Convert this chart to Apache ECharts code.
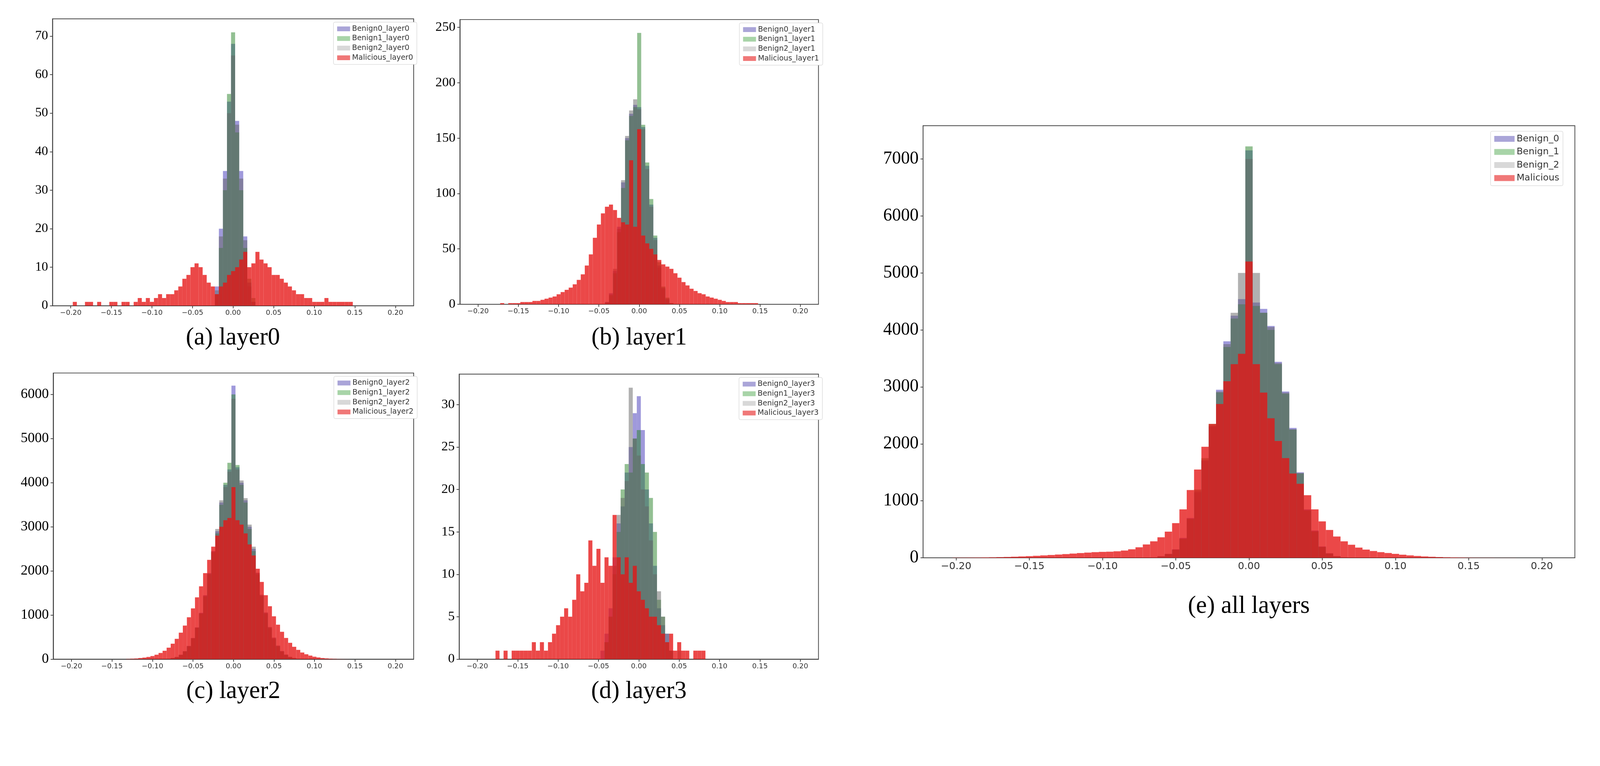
<!DOCTYPE html>
<html><head><meta charset="utf-8">
<script src="https://cdn.jsdelivr.net/npm/echarts@6/dist/echarts.min.js"></script>
<style>html,body{margin:0;padding:0;background:#fff;overflow:hidden}#c{position:absolute;left:0;top:0}</style>
</head><body><div id="c"></div>
<script>
const bins = [-0.22,-0.215,-0.21,-0.205,-0.2,-0.195,-0.19,-0.185,-0.18,-0.175,
-0.17,-0.165,-0.16,-0.155,-0.15,-0.145,-0.14,-0.135,-0.13,-0.125,
-0.12,-0.115,-0.11,-0.105,-0.1,-0.095,-0.09,-0.085,-0.08,-0.075,
-0.07,-0.065,-0.06,-0.055,-0.05,-0.045,-0.04,-0.035,-0.03,-0.025,
-0.02,-0.015,-0.01,-0.005,0,0.005,0.01,0.015,0.02,0.025,
0.03,0.035,0.04,0.045,0.05,0.055,0.06,0.065,0.07,0.075,
0.08,0.085,0.09,0.095,0.1,0.105,0.11,0.115,0.12,0.125,
0.13,0.135,0.14,0.145,0.15,0.155,0.16,0.165,0.17,0.175,
0.18,0.185,0.19,0.195,0.2,0.205,0.21,0.215,0.22];
const xTicks = [-0.2,-0.15,-0.1,-0.05,0,0.05,0.1,0.15,0.2];

// layer0
const L0_B0 = [0,0,0,0,0,0,0,0,0,0, 0,0,0,0,0,0,0,0,0,0, 0,0,0,0,0,0,0,0,0,0, 0,0,0,0,0,0,0,0,0,0,
 5,20,35,53,68,48,35,18,6,1, 0,0,0,0,0,0,0,0,0,0, 0,0,0,0,0,0,0,0,0,0, 0,0,0,0,0,0,0,0,0,0, 0,0,0,0,0,0,0,0,0];
const L0_B1 = [0,0,0,0,0,0,0,0,0,0, 0,0,0,0,0,0,0,0,0,0, 0,0,0,0,0,0,0,0,0,0, 0,0,0,0,0,0,0,0,0,0,
 3,15,30,55,71,45,30,15,7,2, 0,0,0,0,0,0,0,0,0,0, 0,0,0,0,0,0,0,0,0,0, 0,0,0,0,0,0,0,0,0,0, 0,0,0,0,0,0,0,0,0];
const L0_B2 = [0,0,0,0,0,0,0,0,0,0, 0,0,0,0,0,0,0,0,0,0, 0,0,0,0,0,0,0,0,0,0, 0,0,0,0,0,0,0,0,0,0,
 4,18,33,50,65,47,33,17,5,1, 0,0,0,0,0,0,0,0,0,0, 0,0,0,0,0,0,0,0,0,0, 0,0,0,0,0,0,0,0,0,0, 0,0,0,0,0,0,0,0,0];
const L0_M = [0,0,0,0,0,1,0,0,1,1, 0,1,0,0,1,1,0,1,1,0, 1,2,1,2,1,2,3,2,3,3, 4,5,7,8,10,11,10,8,6,5,
 3,5,6,8,9,10,12,14,10,11, 14,12,11,10,8,8,7,6,5,4, 3,3,2,2,1,1,1,2,1,1, 1,1,1,1,0,0,0,0,0,0, 0,0,0,0,0,0,0,0,0];

// layer1
const L1_B0 = [0,0,0,0,0,0,0,0,0,0, 0,0,0,0,0,0,0,0,0,0, 0,0,0,0,0,0,0,0,0,0, 0,0,0,0,0,0,2,10,30,70,
 110,150,172,180,178,160,125,90,60,35, 15,5,1,0,0,0,0,0,0,0, 0,0,0,0,0,0,0,0,0,0, 0,0,0,0,0,0,0,0,0,0, 0,0,0,0,0,0,0,0,0];
const L1_B1 = [0,0,0,0,0,0,0,0,0,0, 0,0,0,0,0,0,0,0,0,0, 0,0,0,0,0,0,0,0,0,0, 0,0,0,0,0,0,1,8,28,65,
 105,148,170,178,245,162,128,95,62,38, 16,6,1,0,0,0,0,0,0,0, 0,0,0,0,0,0,0,0,0,0, 0,0,0,0,0,0,0,0,0,0, 0,0,0,0,0,0,0,0,0];
const L1_B2 = [0,0,0,0,0,0,0,0,0,0, 0,0,0,0,0,0,0,0,0,0, 0,0,0,0,0,0,0,0,0,0, 0,0,0,0,0,0,2,9,32,68,
 112,152,175,185,176,158,122,88,58,33, 14,4,1,0,0,0,0,0,0,0, 0,0,0,0,0,0,0,0,0,0, 0,0,0,0,0,0,0,0,0,0, 0,0,0,0,0,0,0,0,0];
const L1_M = [0,0,0,0,0,0,0,0,0,0, 1,0,1,1,1,2,2,2,3,3, 4,5,6,7,9,11,13,15,18,22, 27,35,45,60,72,82,88,90,85,78,
 74,72,130,70,158,62,55,50,45,40, 36,34,32,28,24,20,17,14,12,10, 9,7,6,5,4,3,2,2,2,1, 1,1,1,1,0,0,0,0,0,0, 0,0,0,0,0,0,0,0,0];

// layer2
const L2_B0 = [0,0,0,0,0,0,0,0,0,0, 0,0,0,0,0,0,0,0,0,0, 0,0,0,0,0,0,0,0,10,25, 50,100,180,300,480,720,1050,1450,1950,2450,
 2900,3550,3950,4300,6200,4350,4000,3600,3000,2500, 1950,1450,1050,720,480,300,180,100,50,25, 10,0,0,0,0,0,0,0,0,0, 0,0,0,0,0,0,0,0,0,0, 0,0,0,0,0,0,0,0,0];
const L2_B1 = [0,0,0,0,0,0,0,0,0,0, 0,0,0,0,0,0,0,0,0,0, 0,0,0,0,0,0,0,0,8,22, 45,95,175,290,470,710,1030,1420,1920,2420,
 2850,3500,4000,4450,6000,4400,3950,3550,2950,2450, 1920,1430,1030,700,460,290,170,95,45,22, 8,0,0,0,0,0,0,0,0,0, 0,0,0,0,0,0,0,0,0,0, 0,0,0,0,0,0,0,0,0];
const L2_B2 = [0,0,0,0,0,0,0,0,0,0, 0,0,0,0,0,0,0,0,0,0, 0,0,0,0,0,0,0,0,9,24, 48,98,178,295,475,715,1040,1440,1940,2440,
 2950,3600,3900,4250,5900,4300,4050,3650,3050,2550, 1960,1460,1060,730,490,310,185,105,52,26, 11,0,0,0,0,0,0,0,0,0, 0,0,0,0,0,0,0,0,0,0, 0,0,0,0,0,0,0,0,0];
const L2_M = [0,0,0,0,0,0,0,0,0,0, 0,0,0,0,0,0,0,0,5,10, 15,25,35,50,70,100,140,190,260,350, 460,600,760,950,1150,1400,1650,1950,2250,2550,
 2800,3000,3150,3200,3900,3150,3050,2850,2600,2350, 2050,1750,1450,1200,970,780,620,480,370,280, 210,150,110,80,55,38,25,17,11,7, 4,2,1,0,0,0,0,0,0,0, 0,0,0,0,0,0,0,0,0];

// layer3
const L3_B0 = [0,0,0,0,0,0,0,0,0,0, 0,0,0,0,0,0,0,0,0,0, 0,0,0,0,0,0,0,0,0,0, 0,0,0,0,0,1,3,6,12,16,
 18,22,25,29,31,27,20,16,11,6, 4,3,1,0,0,0,0,0,0,0, 0,0,0,0,0,0,0,0,0,0, 0,0,0,0,0,0,0,0,0,0, 0,0,0,0,0,0,0,0,0];
const L3_B1 = [0,0,0,0,0,0,0,0,0,0, 0,0,0,0,0,0,0,0,0,0, 0,0,0,0,0,0,0,0,0,0, 0,0,0,0,0,0,2,5,10,15,
 20,23,22,26,27,23,22,19,15,7, 5,2,1,0,0,0,0,0,0,0, 0,0,0,0,0,0,0,0,0,0, 0,0,0,0,0,0,0,0,0,0, 0,0,0,0,0,0,0,0,0];
const L3_B2 = [0,0,0,0,0,0,0,0,0,0, 0,0,0,0,0,0,0,0,0,0, 0,0,0,0,0,0,0,0,0,0, 0,0,0,0,0,0,2,5,11,17,
 19,21,32,26,24,20,18,14,10,8, 5,3,1,0,1,0,0,0,0,0, 0,0,0,0,0,0,0,0,0,0, 0,0,0,0,0,0,0,0,0,0, 0,0,0,0,0,0,0,0,0];
const L3_M = [0,0,0,0,0,0,0,0,0,1, 0,1,0,1,1,1,1,1,2,1, 2,1,2,3,4,5,6,5,7,10, 8,9,14,11,13,9,12,11,17,12,
 10,12,9,11,8,7,6,5,5,4, 3,2,3,1,2,1,1,0,1,1, 1,0,0,0,0,0,0,0,0,0, 0,0,0,0,0,0,0,0,0,0, 0,0,0,0,0,0,0,0,0];

// all layers
const ALL_B0 = [0,0,0,0,0,0,0,0,0,0, 0,0,0,0,0,0,0,0,0,0, 0,0,0,0,0,0,0,0,0,0, 0,10,30,70,150,350,700,1150,1700,2300,
 2950,3800,4250,4540,7150,4480,4370,4070,3440,2920, 2280,1500,850,480,200,80,30,10,0,0, 0,0,0,0,0,0,0,0,0,0, 0,0,0,0,0,0,0,0,0,0, 0,0,0,0,0,0,0,0,0];
const ALL_B1 = [0,0,0,0,0,0,0,0,0,0, 0,0,0,0,0,0,0,0,0,0, 0,0,0,0,0,0,0,0,0,0, 0,8,25,65,140,330,680,1200,1750,2350,
 2900,3700,4200,4450,7220,4420,4300,4000,3400,2880, 2250,1480,830,460,190,75,28,9,0,0, 0,0,0,0,0,0,0,0,0,0, 0,0,0,0,0,0,0,0,0,0, 0,0,0,0,0,0,0,0,0];
const ALL_B2 = [0,0,0,0,0,0,0,0,0,0, 0,0,0,0,0,0,0,0,0,0, 0,0,0,0,0,0,0,0,0,0, 0,9,28,68,145,340,690,1180,1720,2320,
 2920,3750,4300,5000,7000,5000,4300,4050,3420,2900, 2260,1490,840,470,195,78,29,10,0,0, 0,0,0,0,0,0,0,0,0,0, 0,0,0,0,0,0,0,0,0,0, 0,0,0,0,0,0,0,0,0];
const ALL_M = [0,0,0,0,3,4,5,6,8,10, 13,16,20,25,30,36,43,50,58,66, 75,84,92,100,105,108,115,128,150,185, 235,290,360,460,610,850,1190,1550,1950,2350,
 2700,3100,3400,3580,5200,3400,2900,2450,2050,1750, 1480,1300,1100,850,640,490,375,290,230,180, 145,120,100,85,70,55,43,33,25,19, 14,10,8,6,4,3,2,2,1,1, 1,0,0,0,0,0,0,0,0];

const panels = [
  {names:['Benign0_layer0','Benign1_layer0','Benign2_layer0','Malicious_layer0'], data:[L0_B0,L0_B1,L0_B2,L0_M], yMax:74.5, yInt:10, caption:'(a) layer0'},
  {names:['Benign0_layer1','Benign1_layer1','Benign2_layer1','Malicious_layer1'], data:[L1_B0,L1_B1,L1_B2,L1_M], yMax:257, yInt:50, caption:'(b) layer1'},
  {names:['Benign0_layer2','Benign1_layer2','Benign2_layer2','Malicious_layer2'], data:[L2_B0,L2_B1,L2_B2,L2_M], yMax:6486, yInt:1000, caption:'(c) layer2'},
  {names:['Benign0_layer3','Benign1_layer3','Benign2_layer3','Malicious_layer3'], data:[L3_B0,L3_B1,L3_B2,L3_M], yMax:33.6, yInt:5, caption:'(d) layer3'},
  {names:['Benign_0','Benign_1','Benign_2','Malicious'], data:[ALL_B0,ALL_B1,ALL_B2,ALL_M], yMax:7584, yInt:1000, caption:'(e) all layers'}
];
// layout in reference pixels (4328 x 1961), scaled to the actual viewport below
const layout = [
  {left:142, top:51, width:977, height:776, yFs:35, xFs:19, lg:{left:902, top:60, iw:35, ih:13, fs:20, gap:6}, cap:[630,915]},
  {left:1244, top:53, width:970, height:770, yFs:36, xFs:19, lg:{left:2000, top:62, iw:35, ih:13, fs:20, gap:6}, cap:[1729,915]},
  {left:144, top:1009, width:975, height:774, yFs:38, xFs:19, lg:{left:903, top:1018, iw:35, ih:13, fs:20, gap:6}, cap:[631,1871]},
  {left:1242, top:1012, width:972, height:771, yFs:36, xFs:19, lg:{left:1999, top:1021, iw:35, ih:13, fs:20, gap:6}, cap:[1728,1871]},
  {left:2497, top:340, width:1763, height:1169, yFs:48, xFs:27, lg:{left:4032, top:355, iw:55, ih:16, fs:25, gap:10}, cap:[3378,1640]}
];
const barColors = ['rgba(80,70,190,0.55)','rgba(40,130,40,0.5)','rgba(100,100,100,0.5)','rgba(230,20,20,0.78)'];
const patchColors = ['#aaa5d8','#a8d4a8','#d8d8d8','#f07878'];

const W = window.innerWidth || 4328, H = window.innerHeight || 1961;
const S = Math.min(W/4328, H/1961);
const el = document.getElementById('c');
el.style.width = W + 'px'; el.style.height = H + 'px';
const px = v => v * S;

function isTick(v){ const n = Math.round(Number(v)*1000); return n % 50 === 0 && Math.abs(n) <= 200; }
function fmt(v){ const n = Number(v); const s = Math.abs(n).toFixed(2); return n < -1e-9 ? '\u2212' + s : s; }

const grid=[], xAxis=[], yAxis=[], series=[], legend=[], graphic=[];
panels.forEach((p,k)=>{
  const L = layout[k];
  grid.push({left:px(L.left), top:px(L.top), width:px(L.width), height:px(L.height), show:true, borderColor:'#444', borderWidth:Math.max(1,px(2)), backgroundColor:'#fff'});
  xAxis.push({type:'category', gridIndex:k, data:bins, boundaryGap:true,
    axisLine:{lineStyle:{color:'#444', width:Math.max(1,px(2))}},
    axisTick:{show:true, alignWithLabel:true, interval:(i,v)=>isTick(v), length:px(7), lineStyle:{color:'#444', width:Math.max(1,px(2))}},
    axisLabel:{interval:(i,v)=>isTick(v), formatter:fmt, fontFamily:'DejaVu Sans', fontSize:px(L.xFs), color:'#333', margin:px(10)},
    splitLine:{show:false}});
  yAxis.push({type:'value', gridIndex:k, min:0, max:p.yMax, interval:p.yInt,
    axisLine:{show:true, lineStyle:{color:'#444', width:Math.max(1,px(2))}},
    axisTick:{show:true, length:px(7), lineStyle:{color:'#444', width:Math.max(1,px(2))}},
    axisLabel:{fontFamily:'Liberation Serif', fontSize:px(L.yFs), color:'#000', margin:px(12), showMaxLabel:false, formatter:v=>String(v)},
    splitLine:{show:false}});
  p.names.forEach((nm,j)=>{
    series.push({type:'bar', name:nm, xAxisIndex:k, yAxisIndex:k, data:p.data[j],
      barGap:'-100%', barCategoryGap:'0%', itemStyle:{color:barColors[j]}, z:2+j, silent:true});
  });
  legend.push({orient:'vertical', left:px(L.lg.left), top:px(L.lg.top), itemWidth:px(L.lg.iw), itemHeight:px(L.lg.ih), itemGap:px(L.lg.gap),
    padding:[px(8),px(10),px(8),px(10)], backgroundColor:'#fff', borderColor:'#ccc', borderWidth:1, borderRadius:px(4),
    textStyle:{fontFamily:'DejaVu Sans', fontSize:px(L.lg.fs), color:'#333'}, icon:'rect',
    data:p.names.map((nm,j)=>({name:nm, itemStyle:{color:patchColors[j]}}))});
  graphic.push({type:'text', x:px(L.cap[0]), y:px(L.cap[1]), style:{text:p.caption, font:px(66)+'px "Liberation Serif"', fill:'#000', textAlign:'center', textVerticalAlign:'middle'}});
});

const chart = echarts.init(el, null, {renderer:'canvas', width:W, height:H});
chart.setOption({animation:false, backgroundColor:'#fff', grid, xAxis, yAxis, series, legend, graphic});
</script></body></html>
